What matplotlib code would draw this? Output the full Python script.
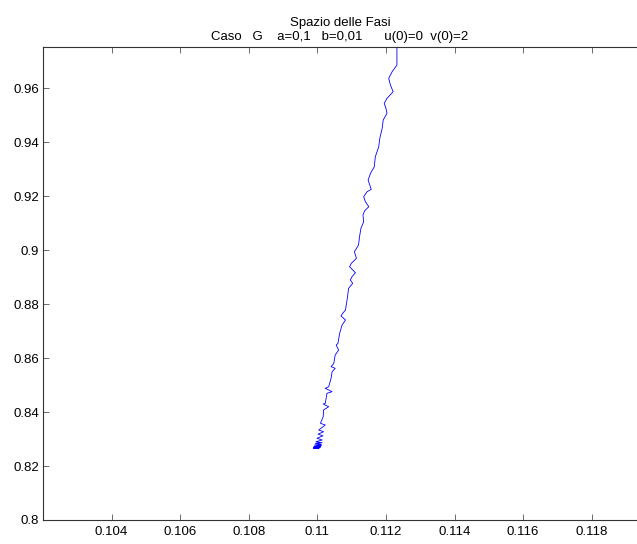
"""Phase-space trajectory, Caso G (MATLAB-style figure)."""

import matplotlib

matplotlib.use("Agg")
import matplotlib.pyplot as plt
from matplotlib.ticker import FormatStrFormatter

plt.rcParams["font.family"] = ["Liberation Sans", "DejaVu Sans"]

TITLE = "Spazio delle Fasi\nCaso   G    a=0,1   b=0,01      u(0)=0  v(0)=2"

# trajectory, from the top (clipped) down to the end point
u_vals = [
    0.11232, 0.11232, 0.11218, 0.11208, 0.11213, 0.11221, 0.11203, 0.11195,
    0.11200, 0.11203, 0.11192, 0.11189, 0.11182, 0.11179, 0.11169, 0.11166,
    0.11155, 0.11148, 0.11157, 0.11145, 0.11135, 0.11140, 0.11150, 0.11138,
    0.11133, 0.11135, 0.11127, 0.11123, 0.11120, 0.11108, 0.11114, 0.11099,
    0.11094, 0.11111, 0.11101, 0.11096, 0.11103, 0.11091, 0.11088, 0.11082,
    0.11074, 0.11069, 0.11082, 0.11072, 0.11065, 0.11060, 0.11055, 0.11062,
    0.11052, 0.11048, 0.11040, 0.11052, 0.11043, 0.11040, 0.11033, 0.11023,
    0.11043, 0.11028, 0.11023, 0.11017, 0.11033, 0.11018, 0.11017, 0.11009,
    0.11023, 0.11004, 0.11018, 0.11002, 0.11016, 0.10999, 0.11014, 0.10996,
    0.11014, 0.10994, 0.11012, 0.10992, 0.11012, 0.10990, 0.11010, 0.10990,
    0.11008, 0.10989, 0.11006, 0.10989, 0.11004, 0.10989,
]
v_vals = [
    0.97778, 0.96852, 0.96604, 0.96359, 0.96111, 0.95863, 0.95619, 0.95433,
    0.95248, 0.95063, 0.94815, 0.94507, 0.94137, 0.93826, 0.93456, 0.93085,
    0.92841, 0.92593, 0.92248, 0.92159, 0.91974, 0.91789, 0.91604, 0.91456,
    0.91296, 0.91048, 0.90804, 0.90493, 0.90185, 0.89937, 0.89693, 0.89507,
    0.89381, 0.89159, 0.89011, 0.88889, 0.88767, 0.88581, 0.88270, 0.87778,
    0.87656, 0.87556, 0.87407, 0.87222, 0.86915, 0.86544, 0.86481, 0.86296,
    0.86111, 0.85804, 0.85678, 0.85619, 0.85493, 0.85248, 0.84937, 0.84878,
    0.84752, 0.84693, 0.84322, 0.84296, 0.84196, 0.84074, 0.83826, 0.83581,
    0.83519, 0.83333, 0.83270, 0.83180, 0.83120, 0.83026, 0.82963, 0.82900,
    0.82860, 0.82841, 0.82800, 0.82780, 0.82760, 0.82730, 0.82715, 0.82700,
    0.82690, 0.82680, 0.82670, 0.82665, 0.82660, 0.82656,
]

x_ticks = [0.104, 0.106, 0.108, 0.110, 0.112, 0.114, 0.116, 0.118]
y_ticks = [0.80, 0.82, 0.84, 0.86, 0.88, 0.90, 0.92, 0.94, 0.96]
x_lim = (0.10200, 0.11932)
y_lim = (0.80, 0.9752)


def main() -> None:
    W, H = 637, 544
    fig = plt.figure(figsize=(W / 100, H / 100), dpi=100)
    ax = fig.add_axes([43 / W, (H - 520) / H, (637 - 43) / W, 473 / H])

    ax.plot(u_vals, v_vals, color="#0000ff", linewidth=0.6)

    ax.set_xlim(x_lim)
    ax.set_ylim(y_lim)
    ax.set_xticks(x_ticks)
    ax.set_yticks(y_ticks)
    ax.xaxis.set_major_formatter(FormatStrFormatter("%g"))
    ax.yaxis.set_major_formatter(FormatStrFormatter("%g"))
    ax.tick_params(direction="in", length=4, width=0.6, color="#555555",
                   labelsize=9.5, top=True, right=False)
    ax.tick_params(axis="x", pad=4)
    ax.tick_params(axis="y", pad=3)
    for name in ("left", "bottom", "top"):
        ax.spines[name].set_color("#333333")
        ax.spines[name].set_linewidth(0.8)
    ax.spines["right"].set_visible(False)

    ax.set_title(TITLE, fontsize=9.5, pad=5, linespacing=1.25)

    fig.savefig("out.png", dpi=100)
    plt.close(fig)


if __name__ == "__main__":
    main()
